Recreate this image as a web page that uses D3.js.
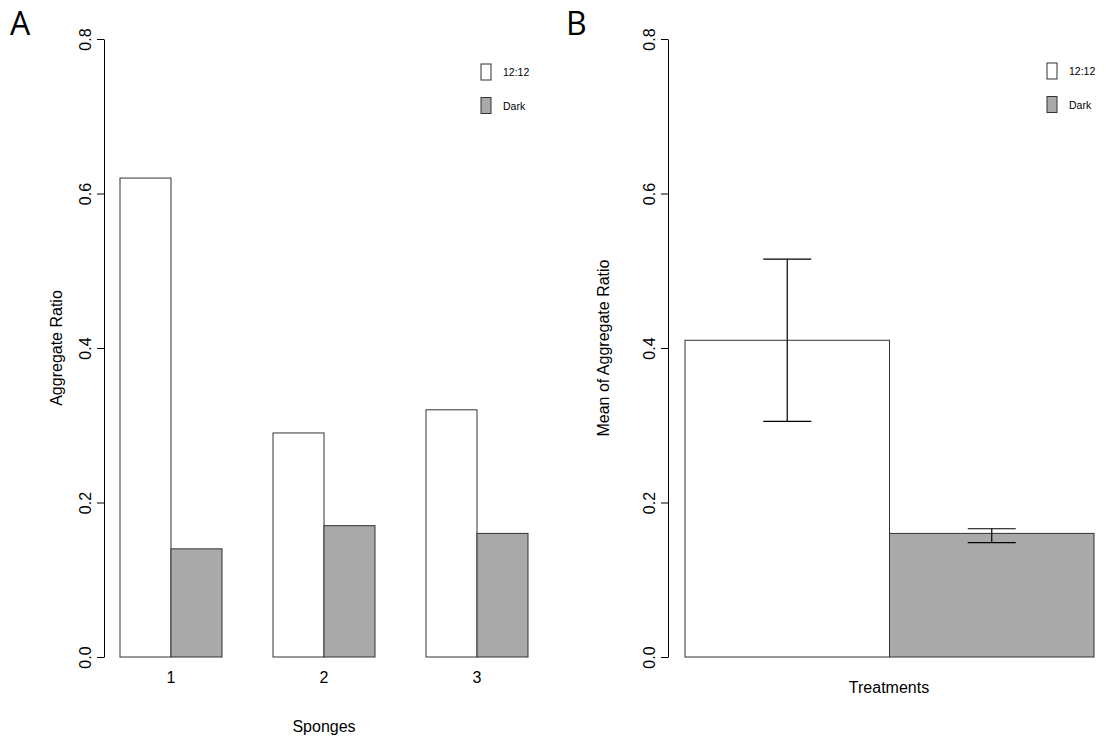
<!DOCTYPE html>
<html>
<head>
<meta charset="utf-8">
<script src="https://cdn.jsdelivr.net/npm/d3@7"></script>
<style>
  body { margin: 0; background: #fff; }
  text { font-family: "Liberation Sans", Arial, sans-serif; fill: #000; }
</style>
</head>
<body>
<div id="chart"></div>
<script>
// data
var sponges = ["1", "2", "3"];
var light = [0.62, 0.29, 0.32];
var dark = [0.14, 0.17, 0.16];
var seriesNames = ["12:12", "Dark"];
var seriesFill = ["#ffffff", "#a9a9a9"];
var treatMeans = [0.41, 0.16];
var treatLow = [0.305, 0.148];
var treatHigh = [0.515, 0.166];
var yTicks = [0, 0.2, 0.4, 0.6, 0.8];

var width = 1118, height = 748;
var svg = d3.select("#chart").append("svg")
  .attr("width", width).attr("height", height);

// shared y scale
var y = d3.scaleLinear().domain([0, 0.8]).range([657, 39]);

// y axis, R style with rotated labels
function drawYAxis(x0, label, labelX) {
  var g = svg.append("g").attr("transform", "translate(" + x0 + ",0)")
    .call(d3.axisLeft(y).tickValues(yTicks).tickFormat(d3.format(".1f"))
      .tickSize(7).tickSizeOuter(0));
  g.selectAll("path, line").attr("stroke", "#000");
  g.selectAll("text")
    .attr("x", null).attr("dy", null)
    .attr("text-anchor", "middle")
    .attr("transform", "translate(-13,0) rotate(-90)")
    .style("font-size", "16px")
    .style("font-family", '"Liberation Sans", Arial, sans-serif');
  svg.append("text")
    .attr("transform", "translate(" + labelX + "," + y(0.4) + ") rotate(-90)")
    .attr("text-anchor", "middle")
    .style("font-size", "16px")
    .text(label);
}

function drawLegend(x0, y0) {
  var lg = svg.append("g").attr("transform", "translate(" + x0 + "," + y0 + ")");
  seriesNames.forEach(function (n, i) {
    lg.append("rect")
      .attr("x", 0).attr("y", i * 33.5)
      .attr("width", 10).attr("height", 16)
      .attr("fill", seriesFill[i]).attr("stroke", "#333");
    lg.append("text")
      .attr("x", 22).attr("y", i * 33.5 + 12)
      .style("font-size", "10.5px")
      .text(n);
  });
}

// ---- panel A ----
var xA = d3.scaleBand().domain(sponges).range([120, 528])
  .paddingInner(1 / 3).paddingOuter(0);
var xSub = d3.scaleBand().domain(seriesNames).range([0, xA.bandwidth()]);

var groups = svg.append("g").selectAll("g")
  .data(sponges.map(function (s, i) { return { s: s, v: [light[i], dark[i]] }; }))
  .join("g")
  .attr("transform", function (d) { return "translate(" + xA(d.s) + ",0)"; });

groups.selectAll("rect")
  .data(function (d) { return d.v.map(function (v, j) { return { k: seriesNames[j], v: v, j: j }; }); })
  .join("rect")
  .attr("x", function (d) { return xSub(d.k); })
  .attr("y", function (d) { return y(d.v); })
  .attr("width", xSub.bandwidth())
  .attr("height", function (d) { return y(0) - y(d.v); })
  .attr("fill", function (d) { return seriesFill[d.j]; })
  .attr("stroke", "#333");

svg.append("g").selectAll("text")
  .data(sponges).join("text")
  .attr("x", function (d) { return xA(d) + xA.bandwidth() / 2; })
  .attr("y", 683)
  .attr("text-anchor", "middle")
  .style("font-size", "16px")
  .text(function (d) { return d; });

svg.append("text").attr("x", 324).attr("y", 732)
  .attr("text-anchor", "middle").style("font-size", "16px").text("Sponges");

drawYAxis(104, "Aggregate Ratio", 62);
drawLegend(481, 64);

svg.append("text").attr("x", 10).attr("y", 35)
  .style("font-family", '"Open Sans", sans-serif').style("font-size", "32px").text("A");

// ---- panel B ----
var xB = d3.scaleBand().domain(seriesNames).range([685, 1094]).padding(0);

svg.append("g").selectAll("rect")
  .data(seriesNames).join("rect")
  .attr("x", function (d) { return xB(d); })
  .attr("y", function (d, i) { return y(treatMeans[i]); })
  .attr("width", xB.bandwidth())
  .attr("height", function (d, i) { return y(0) - y(treatMeans[i]); })
  .attr("fill", function (d, i) { return seriesFill[i]; })
  .attr("stroke", "#333");

var eb = svg.append("g").attr("stroke", "#000").attr("stroke-width", 1.2);
seriesNames.forEach(function (n, i) {
  var cx = xB(n) + xB.bandwidth() / 2;
  eb.append("line").attr("x1", cx).attr("x2", cx)
    .attr("y1", y(treatHigh[i])).attr("y2", y(treatLow[i]));
  [treatHigh[i], treatLow[i]].forEach(function (v) {
    eb.append("line").attr("x1", cx - 24).attr("x2", cx + 24)
      .attr("y1", y(v)).attr("y2", y(v));
  });
});

svg.append("text").attr("x", 889).attr("y", 693)
  .attr("text-anchor", "middle").style("font-size", "16px").text("Treatments");

drawYAxis(668, "Mean of Aggregate Ratio", 609);
drawLegend(1047, 63);

svg.append("text").attr("x", 566).attr("y", 35)
  .style("font-family", '"Open Sans", sans-serif').style("font-size", "32px").text("B");
</script>
</body>
</html>
